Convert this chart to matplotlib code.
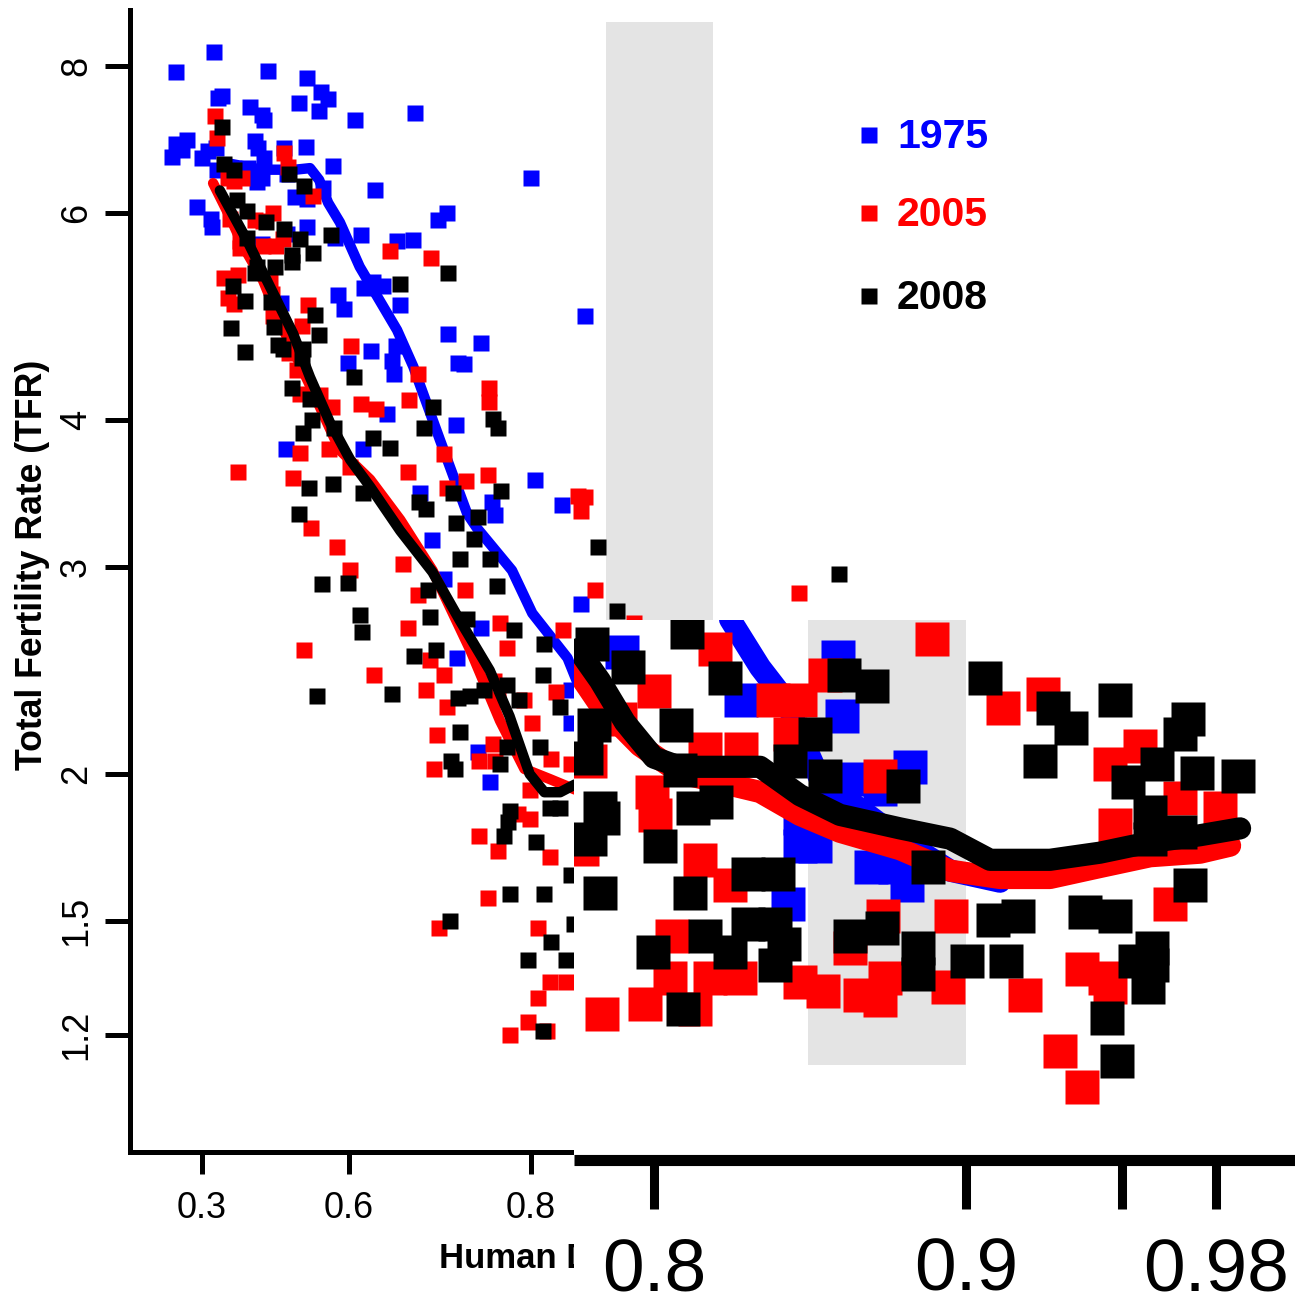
import numpy as np
import matplotlib
matplotlib.use("Agg")
import matplotlib.pyplot as plt
from matplotlib.lines import Line2D
from matplotlib.patches import Rectangle
from matplotlib.ticker import NullLocator

plt.rcParams['font.family'] = ['Liberation Sans', 'DejaVu Sans']

# ---------- main panel: points ----------
blue_hdi = [.332,.226,.456,.531,.555,.567,.516,.551,.609,.689,.351,.341,.417,.443,.447,.529,.428,.435,.447,.575,
            .800,.258,.226,.245,.215,.300,.316,.336,.339,.412,.432,.443,.488,.493,.558,.638,.509,.531,.286,.323,
            .326,.531,.725,.715,.618,.578,.667,.687,.443,.493,.622,.635,.649,.583,.592,.671,.482,.726,.758,.666,
            .632,.598,.661,.663,.736,.742,.654,.734,.491,.621,.803,.822,.695,.768,.771,.837,.709,.721,.758,.735,
            .835,.755,.766,.828,.828]
blue_tfr = [8.22,7.90,7.92,7.82,7.60,7.50,7.44,7.32,7.20,7.29,7.55,7.51,7.39,7.27,7.20,6.83,6.91,6.81,6.68,6.58,
            6.42,6.92,6.87,6.79,6.70,6.68,6.78,6.81,6.52,6.55,6.37,6.43,6.81,6.48,6.30,6.27,6.19,6.17,6.07,5.93,
            5.84,5.84,6.00,5.92,5.75,5.71,5.68,5.69,5.65,5.76,5.18,5.24,5.20,5.11,4.97,5.01,5.03,4.73,4.65,4.62,
            4.58,4.47,4.49,4.38,4.47,4.46,4.05,3.96,3.78,3.78,3.56,3.39,3.47,3.41,3.32,4.90,3.16,2.93,2.66,2.51,
            2.79,2.09,1.97,2.36,2.21]

red_hdi = [.334,.339,.488,.495,.381,.366,.398,.541,.466,.371,.428,.445,.394,.394,.445,.472,.486,.658,.707,.356,
           .389,.366,.381,.460,.464,.466,.532,.522,.603,.497,.512,.692,.765,.765,.682,.618,.639,.518,.553,.573,
           .389,.518,.568,.602,.505,.681,.725,.744,.722,.764,.833,.835,.538,.582,.602,.674,.692,.680,.743,.775,
           .781,.525,.637,.706,.721,.702,.725,.714,.711,.770,.773,.769,.756,.771,.795,.801,.756,.773,.799,.790,
           .814,.818,.823,.843,.837,.815,.828,.799,.764,.716,.805,.814,.825,.805,.798,.783,.812,.928,.865]
red_tfr = [7.25,6.95,6.75,6.56,6.39,6.42,6.42,6.20,6.00,5.93,5.92,5.91,5.68,5.60,5.62,5.62,5.70,5.57,5.49,5.28,
           5.31,5.08,5.02,5.26,5.12,4.90,5.01,4.81,4.62,4.56,4.41,4.38,4.26,4.14,4.16,4.13,4.09,4.21,4.20,4.10,
           3.61,3.75,3.78,3.65,3.57,3.61,3.50,3.55,3.74,3.59,3.45,3.35,3.24,3.12,2.98,3.02,2.84,2.66,2.87,2.69,
           2.56,2.55,2.43,2.50,2.43,2.36,2.28,2.16,2.02,2.40,2.31,2.12,2.05,2.05,2.31,2.21,1.77,1.72,1.83,1.85,
           1.70,2.35,2.65,2.87,3.44,2.06,2.04,1.94,1.57,1.48,1.48,1.33,1.33,1.29,1.23,1.20,1.21,2.85,2.69]

black_hdi = [.351,.356,.381,.497,.525,.387,.410,.451,.488,.571,.518,.410,.541,.503,.503,.470,.432,.428,.726,.671,
             .378,.406,.462,.545,.373,.468,.551,.476,.486,.406,.524,.522,.608,.503,.536,.710,.769,.773,.700,.539,
             .576,.524,.635,.658,.575,.534,.621,.694,.702,.731,.776,.516,.755,.734,.556,.598,.616,.619,.548,.661,
             .688,.704,.706,.713,.738,.752,.766,.772,.745,.787,.810,.809,.736,.748,.761,.781,.791,.821,.738,.781,
             .729,.733,.775,.807,.783,.782,.778,.804,.814,.821,.845,.783,.810,.828,.728,.830,.815,.825,.798,.809,
             .938,.856]
black_tfr = [7.10,6.60,6.53,6.47,6.33,6.15,6.02,5.89,5.81,5.75,5.70,5.71,5.55,5.53,5.45,5.40,5.40,5.33,5.33,5.22,
             5.20,5.05,5.04,4.91,4.79,4.80,4.72,4.63,4.60,4.57,4.60,4.52,4.35,4.26,4.17,4.10,4.01,3.94,3.94,4.00,
             3.94,3.90,3.86,3.79,3.53,3.50,3.47,3.41,3.36,3.47,3.48,3.33,3.31,3.27,2.90,2.91,2.73,2.64,2.33,2.34,
             2.52,2.87,2.72,2.55,3.05,3.17,3.05,2.89,2.71,2.65,2.58,2.43,2.32,2.33,2.36,2.38,2.31,2.28,2.17,2.11,
             2.05,2.02,2.04,2.11,1.86,1.82,1.77,1.75,1.87,1.87,3.12,1.58,1.58,1.64,1.50,1.49,1.44,1.39,1.39,1.21,
             2.96,2.75]

# ---------- main panel: smooth curves ----------
blue_curve_hdi = [.358,.443,.509,.536,.552,.567,.586,.616,.667,.687,.717,.745,.754,.785,.801,.826,.832]
blue_curve_tfr = [6.62,6.53,6.53,6.55,6.40,6.12,5.89,5.40,4.77,4.44,3.85,3.33,3.24,2.98,2.74,2.51,2.40]
red_curve_hdi = [.329,.371,.403,.445,.484,.536,.586,.631,.671,.709,.748,.775,.795,.814,.831]
red_curve_tfr = [6.36,5.95,5.61,5.26,4.80,4.28,3.77,3.56,3.29,2.98,2.55,2.22,2.02,1.98,1.94]
black_curve_hdi = [.346,.410,.466,.505,.536,.570,.602,.631,.671,.709,.738,.766,.783,.799,.810,.821,.831]
black_curve_tfr = [6.27,5.69,5.13,4.74,4.35,3.98,3.70,3.51,3.22,2.97,2.70,2.45,2.24,2.00,1.93,1.93,1.96]

# ---------- inset (high HDI) ----------
zoom_blue_hdi = [.7897,.8279,.859,.8603,.882,.8468,.8516,.8468,.8516,.8696,.8772,.8811,.8429,.8628,.8724]
zoom_blue_tfr = [2.42,2.24,2.40,2.18,2.01,1.85,1.77,1.77,1.85,1.71,1.71,1.66,1.61,1.97,1.94]

zoom_red_hdi = [.8891,.9119,.9247,.8548,.8381,.8468,.8436,.8,.8196,.8163,.8279,.7994,.8003,.8147,.8244,.8724,
                .7769,.7795,.7891,.9462,.9558,.9478,.9814,.9686,.9654,.9372,.9445,.9462,.9189,.9372,.9301,.8952,
                .8734,.8942,.8628,.8542,.8468,.866,.8724,.874,.8276,.8179,.8051,.7971,.7833,.8131,.8058]
zoom_red_tfr = [2.47,2.21,2.26,2.33,2.24,2.24,2.12,2.27,2.43,2.07,2.07,1.93,1.86,1.73,1.66,1.98,
                1.76,2.03,2.17,2.02,2.08,1.83,1.88,1.91,1.61,1.45,1.43,1.41,1.39,1.20,1.27,1.58,
                1.58,1.41,1.50,1.40,1.42,1.39,1.38,1.43,1.43,1.43,1.43,1.37,1.35,1.36,1.53]

zoom_black_hdi = [.7801,.7917,.8106,.8228,.8609,.8699,.9061,.9279,.9478,.9712,.9686,.9337,.8516,.8071,.7808,.7782,
                  .8436,.8548,.8798,.9237,.9612,.9519,.974,.9872,.7827,.7837,.7795,.8019,.8125,.8199,.8083,.959,
                  .9686,.959,.8878,.9718,.8301,.8397,.8115,.7827,.8301,.8387,.8163,.8416,.8244,.8387,.7997,.8093,
                  .8628,.8731,.8846,.8846,.9003,.9128,.9087,.9167,.9381,.9478,.9542,.9596,.9596,.9583,.9452,.9484]
zoom_black_tfr = [2.45,2.36,2.50,2.32,2.33,2.29,2.32,2.21,2.24,2.17,2.12,2.14,2.12,2.15,2.15,2.04,
                  2.03,1.98,1.95,2.03,2.02,1.96,1.99,1.98,1.88,1.85,1.79,1.77,1.88,1.90,2.00,1.87,
                  1.81,1.79,1.71,1.66,1.69,1.69,1.64,1.64,1.56,1.56,1.53,1.51,1.49,1.46,1.49,1.36,
                  1.53,1.55,1.50,1.44,1.47,1.47,1.57,1.58,1.59,1.58,1.47,1.50,1.46,1.41,1.34,1.25]

zoom_blue_curve_hdi = [.8244,.834,.842,.8532,.8788,.8949,.9109]
zoom_blue_curve_tfr = [2.55,2.36,2.24,1.97,1.79,1.70,1.67]
zoom_red_curve_hdi = [.7756,.7827,.7955,.8083,.8212,.834,.8468,.8596,.8788,.8949,.9109,.9269,.9429,.959,.975,.9846]
zoom_red_curve_tfr = [2.34,2.22,2.08,1.99,1.96,1.93,1.86,1.81,1.76,1.70,1.68,1.68,1.71,1.74,1.75,1.77]
zoom_black_curve_hdi = [.7756,.7827,.7907,.800,.8083,.8212,.834,.8468,.8596,.8788,.8949,.9077,.9269,.9429,.959,.975,.9878]
zoom_black_curve_tfr = [2.43,2.31,2.16,2.04,2.01,2.01,2.01,1.92,1.86,1.82,1.79,1.73,1.73,1.75,1.78,1.80,1.82]

# ---------- ticks, labels, bands ----------
main_xticks = [0.3, 0.6, 0.8]
main_xticklabels = ['0.3', '0.6', '0.8']
main_yticks = [8, 6, 4, 3, 2, 1.5, 1.2]
main_yticklabels = ['8', '6', '4', '3', '2', '1.5', '1.2']
zoom_xticks = [0.8, 0.9, 0.95, 0.98]
zoom_xticklabels = ['0.8', '0.9', '', '0.98']
band_hdi = (0.8495, 0.90)
years = ['1975', '2005', '2008']
colors = ['#0000FF', '#FF0000', '#000000']

W, H = 1295, 1310
fig = plt.figure(figsize=(W / 100, H / 100), dpi=100, facecolor='white')

def axes_px(l, t, r, b, **kw):
    return fig.add_axes([l / W, 1 - b / H, (r - l) / W, (b - t) / H], **kw)

def fwd(x):
    return -np.log(1 - np.clip(x, None, 0.9999))
def inv(v):
    return 1 - np.exp(-v)

# main panel
ax = axes_px(130, 10, 1295, 1152, zorder=1)
ax.set_xscale('function', functions=(fwd, inv))
ax.set_yscale('log')
ax.set_xlim(0.0792, 0.9891)
ax.set_ylim(0.9542, 8.927)
ax.fill_between(band_hdi, 2.70, 8.72, color='#E4E4E4', lw=0, zorder=0)

ms_small = 12
for hx, hy, cx, cy, c in [(blue_hdi, blue_tfr, blue_curve_hdi, blue_curve_tfr, colors[0]),
                          (red_hdi, red_tfr, red_curve_hdi, red_curve_tfr, colors[1]),
                          (black_hdi, black_tfr, black_curve_hdi, black_curve_tfr, colors[2])]:
    ax.plot(hx, hy, ls='', marker='s', ms=ms_small, mfc=c, mec='none')
    ax.plot(cx, cy, color=c, lw=7.5, solid_capstyle='round', solid_joinstyle='round')

for s in ['top', 'right']:
    ax.spines[s].set_visible(False)
for s in ['left', 'bottom']:
    ax.spines[s].set_linewidth(3.6)
ax.set_xticks(main_xticks)
ax.set_xticklabels(main_xticklabels, fontsize=26)
ax.set_yticks(main_yticks)
ax.set_yticklabels(main_yticklabels, fontsize=26, rotation=90, va='center')
ax.xaxis.set_minor_locator(NullLocator())
ax.yaxis.set_minor_locator(NullLocator())
ax.tick_params(axis='x', length=16, width=3.6, pad=12)
ax.tick_params(axis='y', length=18, width=3.6, pad=8)

fig.text(33 / W, 1 - 565 / H, 'Total Fertility Rate (TFR)', rotation=90, ha='center', va='center',
         fontsize=25.7, fontweight='bold', zorder=1)
fig.text(439 / W, 1 - 1258 / H, 'Human D', ha='left', va='center',
         fontsize=25, fontweight='bold', zorder=1)

# white mask below the inset
fig.add_artist(Rectangle((574 / W, 0), (W - 574) / W, 1 - 1150 / H, transform=fig.transFigure,
                         fc='white', ec='none', zorder=1.5))

# inset
az = axes_px(574, 620, 1295, 1160, zorder=2)
az.set_yscale('log')
az.set_xlim(0.7744, 1.0054)
az.set_ylim(1.066, 2.547)
az.fill_between(band_hdi, 1.243, 2.547, color='#E4E4E4', lw=0, zorder=0)
ms_big = 24.5
for hx, hy, cx, cy, c in [(zoom_blue_hdi, zoom_blue_tfr, zoom_blue_curve_hdi, zoom_blue_curve_tfr, colors[0]),
                          (zoom_red_hdi, zoom_red_tfr, zoom_red_curve_hdi, zoom_red_curve_tfr, colors[1]),
                          (zoom_black_hdi, zoom_black_tfr, zoom_black_curve_hdi, zoom_black_curve_tfr, colors[2])]:
    az.plot(hx, hy, ls='', marker='s', ms=ms_big, mfc=c, mec='none')
    az.plot(cx, cy, color=c, lw=16, solid_capstyle='round', solid_joinstyle='round')
for s in ['top', 'right', 'left']:
    az.spines[s].set_visible(False)
az.spines['bottom'].set_linewidth(8)
az.spines['bottom'].set_capstyle('butt')
az.set_yticks([])
az.yaxis.set_minor_locator(NullLocator())
az.set_xticks(zoom_xticks)
az.set_xticklabels(zoom_xticklabels, fontsize=54)
az.tick_params(axis='x', length=35, width=6.5, pad=20)

# legend
for yr, c, py in zip(years, colors, [135, 213, 296]):
    fig.add_artist(Line2D([869 / W], [1 - py / H], transform=fig.transFigure, ls='', marker='s', ms=11.5,
                          mfc=c, mec='none', zorder=5))
    fig.text(897 / W, 1 - (py + 2) / H, yr, color=c, fontsize=29.5, fontweight='bold', ha='left', va='center', zorder=5)

fig.savefig('out.png', dpi=100)
